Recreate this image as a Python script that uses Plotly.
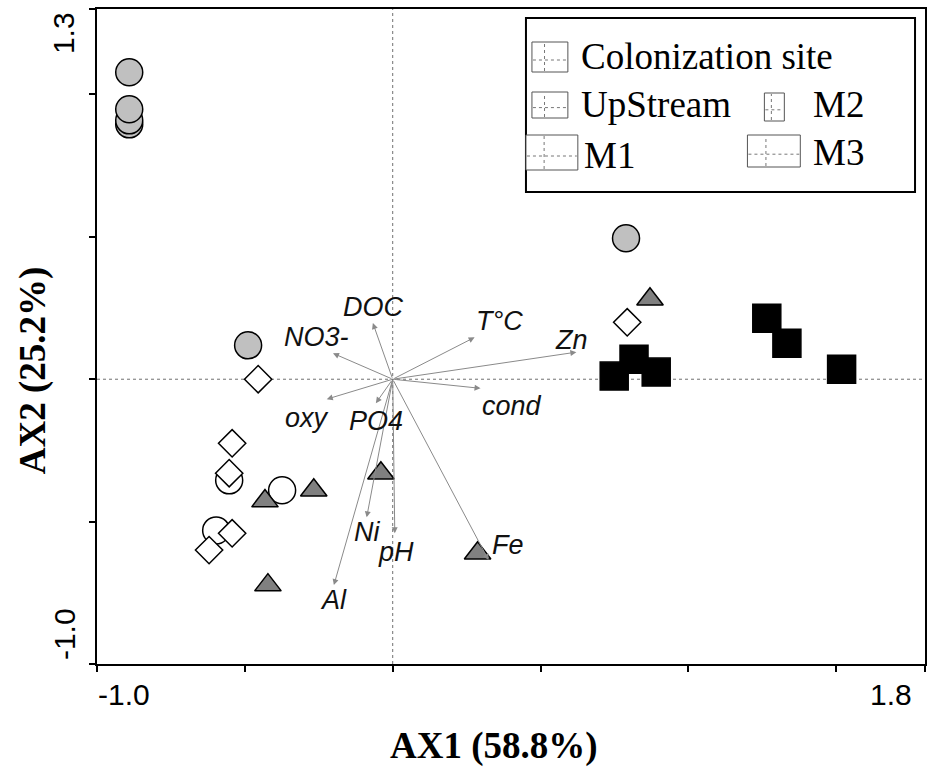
import plotly.graph_objects as go

# ---------------- data ----------------
group_names = ["Colonization site", "UpStream", "M1", "M2", "M3"]

gray_circle_x = [-0.891, -0.891, -0.891, -0.891, 0.789, -0.489]
gray_circle_y = [0.895, 0.909, 0.948, 1.078, 0.495, 0.119]

white_circle_x = [-0.553, -0.374, -0.597]
white_circle_y = [-0.355, -0.390, -0.531]

diamond_x = [-0.455, -0.543, -0.553, -0.543, -0.621, 0.793]
diamond_y = [0.000, -0.225, -0.330, -0.541, -0.600, 0.200]

triangle_x = [-0.040, -0.267, -0.432, -0.422, 0.287, 0.870]
triangle_y = [-0.330, -0.390, -0.428, -0.723, -0.611, 0.281]

square_x = [0.749, 0.816, 0.891, 1.265, 1.333, 1.518]
square_y = [0.011, 0.070, 0.025, 0.214, 0.126, 0.035]

env_vars = ["DOC", "NO3-", "T°C", "Zn", "cond", "oxy", "PO4", "Ni", "pH", "Al", "Fe"]
arrow_x = [-0.067, -0.202, 0.277, 0.621, 0.297, -0.223, -0.057, -0.088, 0.007, -0.199, 0.324]
arrow_y = [0.197, 0.091, 0.147, 0.095, -0.032, -0.070, -0.084, -0.485, -0.541, -0.723, -0.635]
label_x = [-0.065, -0.258, 0.360, 0.606, 0.403, -0.291, -0.055, -0.086, 0.012, -0.200, 0.390]
label_y = [0.253, 0.147, 0.204, 0.137, -0.095, -0.137, -0.147, -0.537, -0.607, -0.776, -0.583]

x_range = [-1.0, 1.8]
y_range = [-1.0, 1.3]
x_tick_vals = [-1.0, -0.5, 0.0, 0.5, 1.0, 1.5, 1.8]
y_tick_vals = [-1.0, -0.5, 0.0, 0.5, 1.0, 1.3]
x_tick_labels = ["-1.0", "1.8"]
y_tick_labels = ["-1.0", "1.3"]
x_title = "AX1 (58.8%)"
y_title = "AX2 (25.2%)"

# ---------------- layout helpers ----------------
W, H = 930, 776
L, R, T, B = 97, 927, 9, 664


def px(xp):
    return (xp - L) / (R - L)


def py(yp):
    return (B - yp) / (B - T)


fig = go.Figure()

edge = dict(color="black", width=1.5)
fig.add_trace(go.Scatter(x=gray_circle_x, y=gray_circle_y, mode="markers", name=group_names[0],
                         marker=dict(symbol="circle", size=27, color="#c0c0c0", line=edge)))
fig.add_trace(go.Scatter(x=white_circle_x, y=white_circle_y, mode="markers", name=group_names[1],
                         marker=dict(symbol="circle", size=27, color="white", line=edge)))
fig.add_trace(go.Scatter(x=diamond_x, y=diamond_y, mode="markers", name=group_names[2],
                         marker=dict(symbol="diamond", size=21, color="white", line=edge)))
fig.add_trace(go.Scatter(x=triangle_x, y=triangle_y, mode="markers", name=group_names[3],
                         marker=dict(symbol="triangle-up", size=23, color="#808080", line=edge)))
fig.add_trace(go.Scatter(x=square_x, y=square_y, mode="markers", name=group_names[4],
                         marker=dict(symbol="square", size=28, color="black", line=edge)))

shapes = []
# dotted zero lines
shapes.append(dict(type="line", xref="x", yref="paper", x0=0, x1=0, y0=0, y1=1,
                   line=dict(color="#707070", width=1, dash="dot"), layer="below"))
shapes.append(dict(type="line", xref="paper", yref="y", x0=0, x1=1, y0=0, y1=0,
                   line=dict(color="#707070", width=1, dash="dot"), layer="below"))

annotations = []
# environmental arrows
for ex, ey in zip(arrow_x, arrow_y):
    annotations.append(dict(x=ex, y=ey, ax=0, ay=0, xref="x", yref="y", axref="x", ayref="y",
                            text="", showarrow=True, arrowhead=2, arrowsize=1.2, arrowwidth=1,
                            arrowcolor="#8a8a8a", standoff=0))
for name, lx, ly in zip(env_vars, label_x, label_y):
    annotations.append(dict(x=lx, y=ly, xref="x", yref="y", text="<i>%s</i>" % name,
                            showarrow=False, xanchor="center", yanchor="middle",
                            font=dict(family="Liberation Sans, Arial", size=27, color="#111111")))

# tick labels
tick_font = dict(family="Liberation Sans, Arial", size=30, color="black")
annotations.append(dict(x=px(96), y=py(694), xref="paper", yref="paper", text=x_tick_labels[0],
                        showarrow=False, xanchor="left", yanchor="middle", font=tick_font))
annotations.append(dict(x=px(916), y=py(694), xref="paper", yref="paper", text=x_tick_labels[1],
                        showarrow=False, xanchor="right", yanchor="middle", font=tick_font))
annotations.append(dict(x=px(64), y=py(662), xref="paper", yref="paper", text=y_tick_labels[0],
                        showarrow=False, xanchor="center", yanchor="bottom", textangle=-90, font=tick_font))
annotations.append(dict(x=px(64), y=py(10), xref="paper", yref="paper", text=y_tick_labels[1],
                        showarrow=False, xanchor="center", yanchor="top", textangle=-90, font=tick_font))

# axis titles
title_font = dict(family="Liberation Serif, Times New Roman", size=37, color="black")
annotations.append(dict(x=px(495), y=py(746), xref="paper", yref="paper", text="<b>%s</b>" % x_title,
                        showarrow=False, xanchor="center", yanchor="middle", font=title_font))
annotations.append(dict(x=px(33), y=py(370), xref="paper", yref="paper", text="<b>%s</b>" % y_title,
                        showarrow=False, xanchor="center", yanchor="middle", textangle=-90, font=title_font))

# legend box
shapes.append(dict(type="rect", xref="paper", yref="paper", x0=px(527), x1=px(917), y0=py(192), y1=py(18),
                   line=dict(color="black", width=2), fillcolor="white", layer="above"))
legend_icons = [(533, 569, 42, 72), (533, 569, 92, 118), (527, 579, 135, 170), (766, 786, 93, 121),
                (749, 802, 135, 167)]
for (x0, x1, y0, y1) in legend_icons:
    shapes.append(dict(type="rect", xref="paper", yref="paper", x0=px(x0), x1=px(x1), y0=py(y1), y1=py(y0),
                       line=dict(color="#555555", width=1), fillcolor="white", layer="above"))
    cx = x0 + (x1 - x0) * 0.35
    cy = y0 + (y1 - y0) * 0.6
    shapes.append(dict(type="line", xref="paper", yref="paper", x0=px(cx), x1=px(cx), y0=py(y1 - 1), y1=py(y0 + 1),
                       line=dict(color="#777777", width=1, dash="dot"), layer="above"))
    shapes.append(dict(type="line", xref="paper", yref="paper", x0=px(x0 + 1), x1=px(x1 - 1), y0=py(cy), y1=py(cy),
                       line=dict(color="#777777", width=1, dash="dot"), layer="above"))

legend_font = dict(family="Liberation Serif, Times New Roman", size=37, color="black")
legend_pos = [(580, 56), (580, 104), (583, 155), (813, 104), (813, 152)]
for name, (lx, ly) in zip(group_names, legend_pos):
    annotations.append(dict(x=px(lx), y=py(ly), xref="paper", yref="paper", text=name,
                            showarrow=False, xanchor="left", yanchor="middle", font=legend_font))

fig.update_layout(
    width=W, height=H,
    margin=dict(l=L, r=W - R, t=T, b=H - B),
    paper_bgcolor="white", plot_bgcolor="white",
    showlegend=False,
    shapes=shapes, annotations=annotations,
    xaxis=dict(range=x_range, showgrid=False, zeroline=False, showline=True, linecolor="black",
               linewidth=2, mirror=True, ticks="outside", ticklen=6, tickwidth=1.5, tickcolor="black",
               tickvals=x_tick_vals, ticktext=[""] * len(x_tick_vals)),
    yaxis=dict(range=y_range, showgrid=False, zeroline=False, showline=True, linecolor="black",
               linewidth=2, mirror=True, ticks="outside", ticklen=6, tickwidth=1.5, tickcolor="black",
               tickvals=y_tick_vals, ticktext=[""] * len(y_tick_vals)),
)

fig.write_html("out.html", config={"displayModeBar": False},
               post_script="document.body.style.margin='0px';document.body.style.overflow='hidden';")
